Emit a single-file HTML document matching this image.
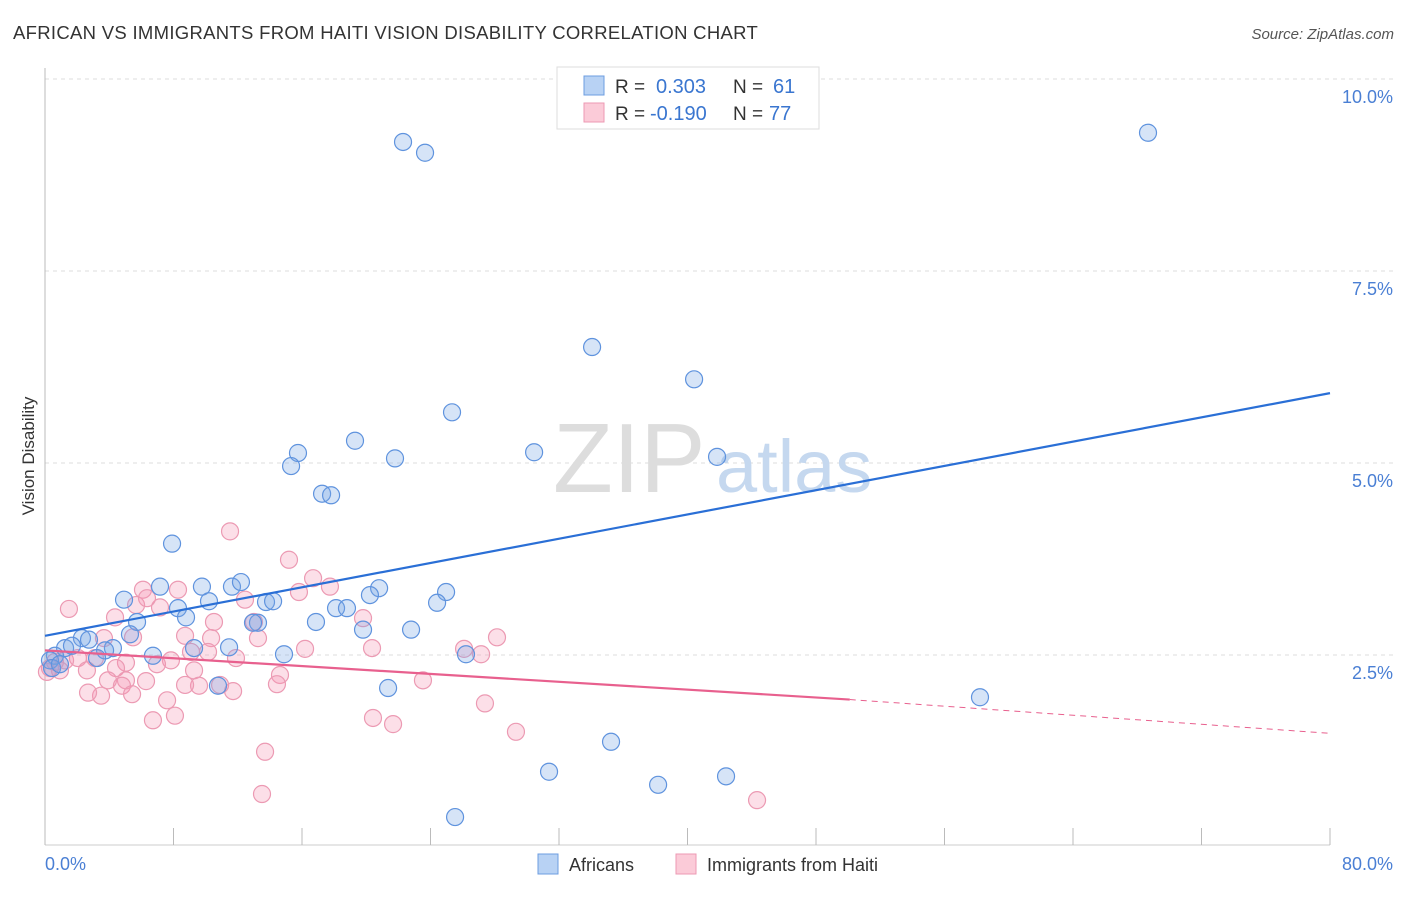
<!DOCTYPE html>
<html><head><meta charset="utf-8"><style>
body{margin:0;background:#fff;font-family:"Liberation Sans",sans-serif;}
svg text{font-family:"Liberation Sans",sans-serif;}
</style></head><body>
<svg id="chart" width="1406" height="892" viewBox="0 0 1406 892" xmlns="http://www.w3.org/2000/svg">
<text x="13" y="39" font-size="18.5" letter-spacing="0.3" fill="#333">AFRICAN VS IMMIGRANTS FROM HAITI VISION DISABILITY CORRELATION CHART</text>
<text x="1394" y="39" font-size="15" fill="#555" text-anchor="end" font-style="italic">Source: ZipAtlas.com</text>
<g id="grid"></g>
<g>
<text x="553" y="492" font-size="98" font-family="Liberation Serif,serif" fill="#ddd">ZIP</text>
<text x="716" y="492" font-size="74" fill="#c5d8ef">atlas</text>
</g>
<line x1="45" y1="68" x2="45" y2="845" stroke="#bbb"/>
<line x1="45" y1="845" x2="1330" y2="845" stroke="#ccc"/>
<g id="xticks"></g>
<g id="yticks"></g>
<text x="45" y="870" font-size="18" fill="#4a7fd4">0.0%</text>
<text x="1393" y="870" font-size="18" fill="#4a7fd4" text-anchor="end">80.0%</text>
<text transform="translate(34,456) rotate(-90)" font-size="17" fill="#333" text-anchor="middle">Vision Disability</text>
<g id="points"></g>
<g id="trends"></g>
<g>
<rect x="557" y="67" width="262" height="62" fill="#fff" stroke="#ddd"/>
<rect x="584" y="76" width="20" height="19" fill="#b8d2f4" stroke="#6c9de0"/>
<rect x="584" y="103" width="20" height="19" fill="#fbcbd8" stroke="#ec9ab3"/>
<text x="615" y="93" font-size="19" fill="#333">R =</text>
<text x="656" y="93" font-size="20" fill="#3a76d0">0.303</text>
<text x="733" y="93" font-size="19" fill="#333">N =</text>
<text x="773" y="93" font-size="20" fill="#3a76d0">61</text>
<text x="615" y="120" font-size="19" fill="#333">R =</text>
<text x="650" y="120" font-size="20" fill="#3a76d0">-0.190</text>
<text x="733" y="120" font-size="19" fill="#333">N =</text>
<text x="769" y="120" font-size="20" fill="#3a76d0">77</text>
</g>
<g>
<rect x="538" y="854" width="20" height="20" fill="#b8d2f4" stroke="#6c9de0"/>
<text x="569" y="871" font-size="18" fill="#333">Africans</text>
<rect x="676" y="854" width="20" height="20" fill="#fbcbd8" stroke="#ec9ab3"/>
<text x="707" y="871" font-size="18" fill="#333">Immigrants from Haiti</text>
</g>
</svg>
<script>
const blueX=[22.29,23.66,68.67,34.06,40.41,25.34,19.30,15.75,21.79,30.45,41.84,15.32,17.25,17.81,7.91,7.16,9.77,11.64,12.20,20.80,20.23,24.97,4.92,8.28,10.21,13.76,14.20,18.12,18.80,24.41,8.78,16.87,5.73,13.26,12.95,5.29,19.80,22.79,2.30,2.74,1.25,1.68,4.23,3.74,9.28,11.46,6.72,3.24,14.88,26.21,0.62,0.31,0.44,0.93,21.36,10.77,58.21,35.24,31.38,38.17,42.40,25.53];
const blueY=[9.18,9.04,9.30,6.51,6.09,5.66,5.29,5.13,5.06,5.14,5.08,4.96,4.60,4.58,3.95,3.39,3.39,3.39,3.45,3.37,3.28,3.32,3.22,3.11,3.20,3.19,3.20,3.11,3.11,3.18,2.99,2.93,2.93,2.92,2.92,2.77,2.83,2.83,2.72,2.70,2.59,2.62,2.59,2.56,2.59,2.60,2.49,2.46,2.51,2.51,2.49,2.43,2.33,2.38,2.07,2.10,1.95,1.37,0.98,0.81,0.92,0.39];
const pinkX=[11.52,15.19,16.69,6.10,8.28,17.74,1.49,4.36,12.45,15.81,5.67,7.16,6.35,19.80,10.52,13.01,8.72,10.34,13.26,5.48,3.67,28.14,26.09,27.15,16.19,20.36,11.89,10.15,9.09,7.84,6.97,5.04,3.11,2.05,2.61,4.42,9.28,6.29,3.92,5.04,14.63,14.44,23.53,9.59,4.79,11.71,7.60,5.42,3.49,2.68,27.39,8.09,6.72,20.42,21.67,29.32,13.70,13.51,44.33,0.93,0.31,0.12,0.62,1.25,10.90,8.72];
const pinkY=[4.11,3.74,3.50,3.35,3.35,3.39,3.10,2.99,3.22,3.32,3.15,3.12,3.24,2.98,2.93,2.93,2.75,2.72,2.72,2.73,2.72,2.73,2.58,2.51,2.58,2.59,2.46,2.54,2.54,2.43,2.38,2.40,2.46,2.46,2.30,2.33,2.30,2.16,2.17,2.17,2.24,2.12,2.17,2.10,2.10,2.03,1.91,1.99,1.97,2.01,1.87,1.71,1.65,1.68,1.60,1.50,1.24,0.69,0.61,2.30,2.33,2.28,2.41,2.43,2.11,2.11];
const yTicks=[2.5,5.0,7.5,10.0];
const xTickVals=[0,8,16,24,32,40,48,56,64,72,80];
const blueTrend=[[0,2.75],[80,5.91]];
const pinkTrend=[[0,2.56],[50.1,1.92],[80,1.48]];
const NS='http://www.w3.org/2000/svg';
const sx=v=>45+v/80*1285;
const sy=v=>847-v/2.5*192;
function mk(tag,attrs,parent){const e=document.createElementNS(NS,tag);for(const k in attrs)e.setAttribute(k,attrs[k]);parent.appendChild(e);return e;}
const grid=document.getElementById('grid'),yt=document.getElementById('yticks'),xt=document.getElementById('xticks');
yTicks.forEach(v=>{
 const l=mk('line',{x1:45,x2:1395,y1:sy(v),y2:sy(v),stroke:'#ddd','stroke-dasharray':'4,4'},grid);
 
 
 const t=mk('text',{x:1393,y:sy(v)+24,'font-size':18,fill:'#4a7fd4','text-anchor':'end'},yt);
 t.textContent=v.toFixed(1)+'%';
 
 
});
xTickVals.forEach(v=>{
 const l=mk('line',{x1:sx(v),x2:sx(v),y1:828,y2:845,stroke:'#bbb'},xt);
 
 
});
const pts=document.getElementById('points');
pinkX.forEach((x,i)=>{
 const c=mk('circle',{cx:sx(x),cy:sy(pinkY[i]),r:8.5,fill:'rgba(244,150,180,0.3)',stroke:'#ec9ab3','stroke-width':1.2},pts);
 
 
});
blueX.forEach((x,i)=>{
 const c=mk('circle',{cx:sx(x),cy:sy(blueY[i]),r:8.5,fill:'rgba(120,165,230,0.3)',stroke:'#5f93de','stroke-width':1.2},pts);
 
 
});
const tr=document.getElementById('trends');
const bl=mk('line',{x1:sx(blueTrend[0][0]),y1:sy(blueTrend[0][1]),x2:sx(blueTrend[1][0]),y2:sy(blueTrend[1][1]),stroke:'#2a6fd6','stroke-width':2.2},tr);


const pl=mk('line',{x1:sx(pinkTrend[0][0]),y1:sy(pinkTrend[0][1]),x2:sx(pinkTrend[1][0]),y2:sy(pinkTrend[1][1]),stroke:'#e8608e','stroke-width':2.2},tr);


const pd=mk('line',{x1:sx(pinkTrend[1][0]),y1:sy(pinkTrend[1][1]),x2:sx(pinkTrend[2][0]),y2:sy(pinkTrend[2][1]),stroke:'#e8608e','stroke-width':1,'stroke-dasharray':'6,5'},tr);


</script>
</body></html>
